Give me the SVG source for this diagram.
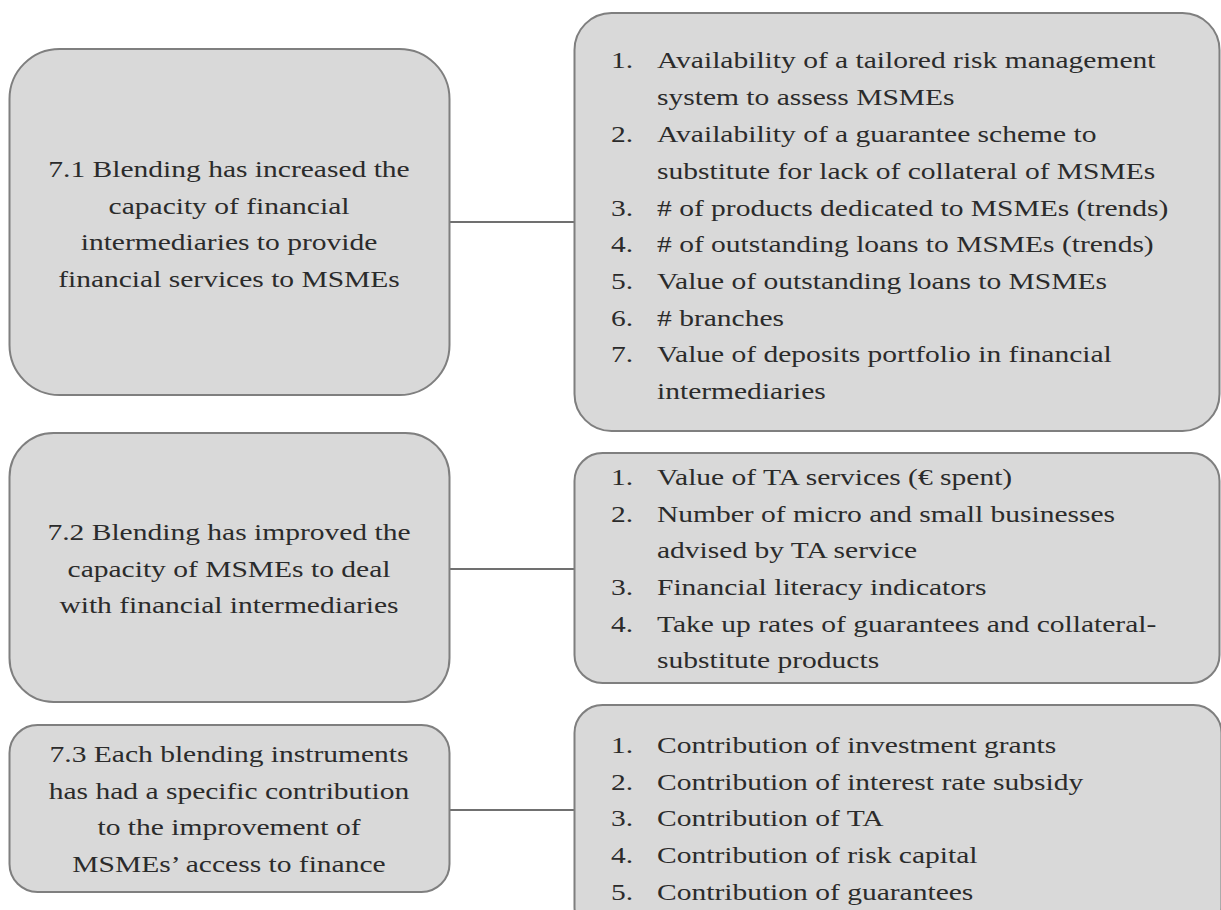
<svg xmlns="http://www.w3.org/2000/svg" width="1221" height="910" viewBox="0 0 1221 910">
<style>
.box{fill:#d9d9d9;stroke:#7f7f7f;stroke-width:2}
.conn{stroke:#404040;stroke-width:1.6;fill:none}
text{font-family:"Liberation Serif","Times New Roman",serif;font-size:24px;fill:#2b2b2b}
.c{text-anchor:middle}
</style>
<rect width="1221" height="910" fill="#ffffff"/>
<g id="connectors">
<line class="conn" x1="449" y1="222" x2="574.5" y2="222"/>
<line class="conn" x1="449" y1="569" x2="574.5" y2="569"/>
<line class="conn" x1="449" y1="810" x2="574.5" y2="810"/>
</g>
<g id="n71">
<rect class="box" x="9.5" y="49" width="440" height="346" rx="50" ry="50"/>
<g transform="translate(229 0) scale(1.23 1)">
<text class="c" x="0" y="177">7.1 Blending has increased the</text>
<text class="c" x="0" y="214">capacity of financial</text>
<text class="c" x="0" y="250">intermediaries to provide</text>
<text class="c" x="0" y="287">financial services to MSMEs</text>
</g>
</g>
<g id="i71">
<rect class="box" x="574.5" y="13" width="645" height="418" rx="37" ry="37"/>
<g transform="translate(611 0) scale(1.23 1)">
<text x="0" y="68">1.</text><text x="37.4" y="68">Availability of a tailored risk management</text>
<text x="37.4" y="105">system to assess MSMEs</text>
<text x="0" y="142">2.</text><text x="37.4" y="142">Availability of a guarantee scheme to</text>
<text x="37.4" y="179">substitute for lack of collateral of MSMEs</text>
<text x="0" y="216">3.</text><text x="37.4" y="216"># of products dedicated to MSMEs (trends)</text>
<text x="0" y="252">4.</text><text x="37.4" y="252"># of outstanding loans to MSMEs (trends)</text>
<text x="0" y="289">5.</text><text x="37.4" y="289">Value of outstanding loans to MSMEs</text>
<text x="0" y="326">6.</text><text x="37.4" y="326"># branches</text>
<text x="0" y="362">7.</text><text x="37.4" y="362">Value of deposits portfolio in financial</text>
<text x="37.4" y="399">intermediaries</text>
</g>
</g>
<g id="n72">
<rect class="box" x="9.5" y="433" width="440" height="269" rx="44" ry="44"/>
<g transform="translate(229 0) scale(1.23 1)">
<text class="c" x="0" y="540">7.2 Blending has improved the</text>
<text class="c" x="0" y="577">capacity of MSMEs to deal</text>
<text class="c" x="0" y="613">with financial intermediaries</text>
</g>
</g>
<g id="i72">
<rect class="box" x="574.5" y="453" width="645" height="230" rx="28" ry="28"/>
<g transform="translate(611 0) scale(1.23 1)">
<text x="0" y="485">1.</text><text x="37.4" y="485">Value of TA services (€ spent)</text>
<text x="0" y="522">2.</text><text x="37.4" y="522">Number of micro and small businesses</text>
<text x="37.4" y="558">advised by TA service</text>
<text x="0" y="595">3.</text><text x="37.4" y="595">Financial literacy indicators</text>
<text x="0" y="632">4.</text><text x="37.4" y="632">Take up rates of guarantees and collateral-</text>
<text x="37.4" y="668">substitute products</text>
</g>
</g>
<g id="n73">
<rect class="box" x="9.5" y="725" width="440" height="167" rx="28" ry="28"/>
<g transform="translate(229 0) scale(1.23 1)">
<text class="c" x="0" y="762">7.3 Each blending instruments</text>
<text class="c" x="0" y="799">has had a specific contribution</text>
<text class="c" x="0" y="835">to the improvement of</text>
<text class="c" x="0" y="872">MSMEs’ access to finance</text>
</g>
</g>
<g id="i73">
<rect class="box" x="574.5" y="705" width="647" height="230" rx="28" ry="28"/>
<g transform="translate(611 0) scale(1.23 1)">
<text x="0" y="753">1.</text><text x="37.4" y="753">Contribution of investment grants</text>
<text x="0" y="790">2.</text><text x="37.4" y="790">Contribution of interest rate subsidy</text>
<text x="0" y="826">3.</text><text x="37.4" y="826">Contribution of TA</text>
<text x="0" y="863">4.</text><text x="37.4" y="863">Contribution of risk capital</text>
<text x="0" y="900">5.</text><text x="37.4" y="900">Contribution of guarantees</text>
</g>
</g>
</svg>
